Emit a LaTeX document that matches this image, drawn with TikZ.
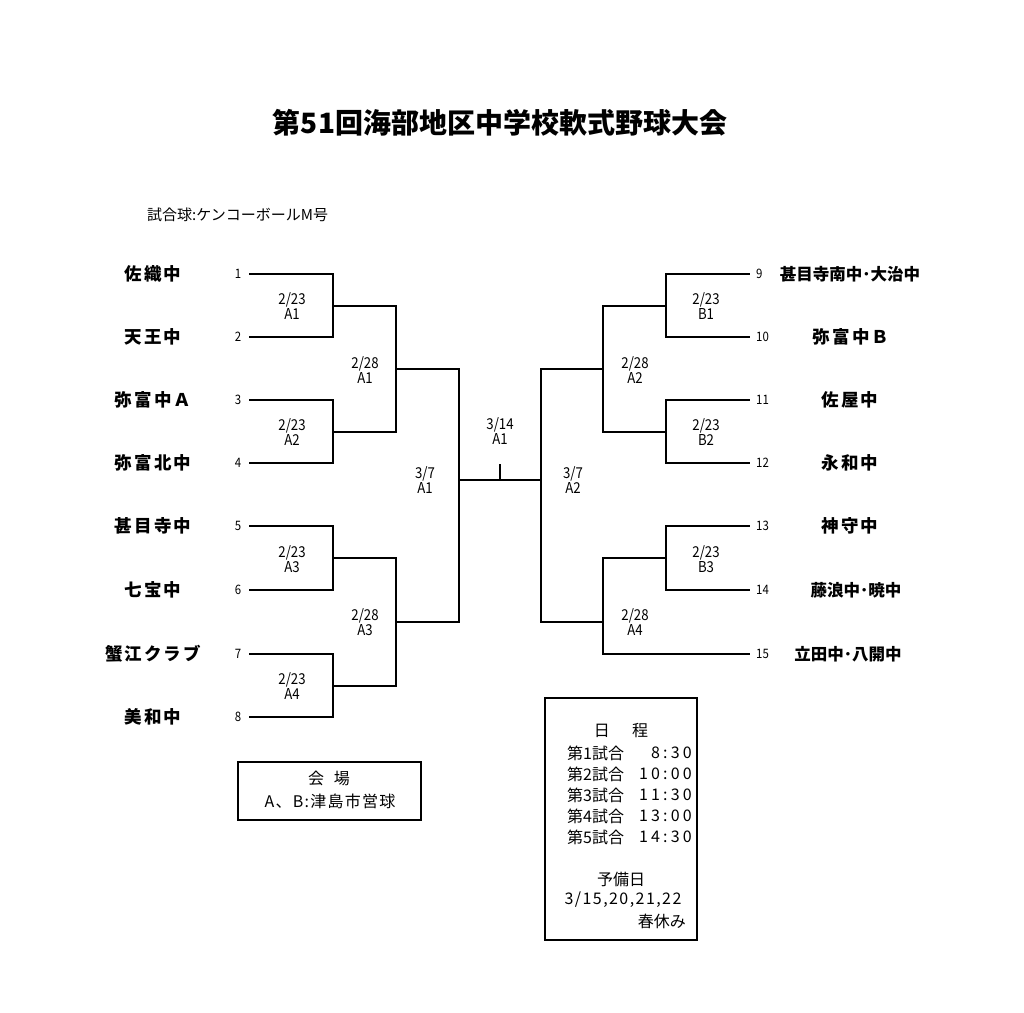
\documentclass[tikz,border=0pt]{standalone}
\usepackage{fontspec}
\setmainfont{Noto Sans CJK JP}
\newfontfamily\jp{Noto Sans CJK JP}
\newfontfamily\jpsp[LetterSpace=12]{Noto Sans CJK JP}
\newfontfamily\jpnar[FakeStretch=0.88]{Noto Sans CJK JP}
\newfontfamily\jpwide[LetterSpace=20]{Noto Sans CJK JP}
\newfontfamily\jpdate[LetterSpace=9]{Noto Sans CJK JP}
\newfontfamily\jpven[LetterSpace=8]{Noto Sans CJK JP}
\begin{document}
\begin{tikzpicture}[x=1pt,y=-1pt,
  team/.style={font=\jpsp\bfseries\fontsize{17.5}{18}\selectfont, inner sep=0pt},
  teamn/.style={font=\jp\bfseries\fontsize{16.5}{17}\selectfont, inner sep=0pt},
  num/.style={font=\jpnar\fontsize{13}{13}\selectfont, inner sep=0pt},
  lbl/.style={font=\jpnar\fontsize{15}{15}\selectfont, align=center, inner sep=0pt},
  small/.style={font=\jp\fontsize{16}{21}\selectfont, inner sep=0pt},
  ln/.style={line width=1.8pt, line cap=rect},
  box/.style={draw, line width=1.2pt}]
\useasboundingbox[fill=white] (0,0) rectangle (1024,1012);

% title
\node[font=\jp\bfseries\fontsize{28}{29}\selectfont] (title) at (500,123) {第51回海部地区中学校軟式野球大会};
\node[font=\jp\fontsize{15}{15}\selectfont, anchor=west, inner sep=0pt] (ball) at (147,215) {試合球:ケンコーボールM号};

% left teams
\foreach \i/\y/\t in {1/274/佐織中,2/337/天王中,3/400/弥富中Ａ,4/463/弥富北中,5/526/甚目寺中,6/590/七宝中,7/654/蟹江クラブ,8/717/美和中}{
  \node[team] (t\i) at (153,\y) {\t};
  \node[num] (n\i) at (238,\y) {\i};
  \coordinate (L\i) at (250,\y);
}
% right teams
\foreach \i/\y in {9/274,10/337,11/400,12/463,13/526,14/590,15/654}{
  \node[num, anchor=west] (n\i) at (756,\y) {\i};
  \coordinate (L\i) at (749,\y);
}
\node[teamn] (t9) at (850,274) {甚目寺南中･大治中};
\node[team] (t10) at (851,337) {弥富中Ｂ};
\node[team] (t11) at (850,400) {佐屋中};
\node[team] (t12) at (850,463) {永和中};
\node[team] (t13) at (850,526) {神守中};
\node[teamn] (t14) at (856,590) {藤浪中･暁中};
\node[teamn] (t15) at (848,654) {立田中･八開中};

% junctions
\coordinate (J1) at (333,306);
\coordinate (J2) at (333,432);
\coordinate (J3) at (333,558);
\coordinate (J4) at (333,686);
\coordinate (S1) at (396,369);
\coordinate (S2) at (396,622);
\coordinate (F1) at (459,480);
\coordinate (F2) at (541,480);
\coordinate (RS1) at (603,369);
\coordinate (RS2) at (603,622);
\coordinate (RJ1) at (666,306);
\coordinate (RJ2) at (666,432);
\coordinate (RJ3) at (666,558);
\coordinate (top) at (500,464);
\coordinate (mid) at (500,480);

\draw[ln] (L1) -| (J1); \draw[ln] (L2) -| (J1);
\draw[ln] (L3) -| (J2); \draw[ln] (L4) -| (J2);
\draw[ln] (L5) -| (J3); \draw[ln] (L6) -| (J3);
\draw[ln] (L7) -| (J4); \draw[ln] (L8) -| (J4);
\draw[ln] (J1) -| (S1); \draw[ln] (J2) -| (S1);
\draw[ln] (J3) -| (S2); \draw[ln] (J4) -| (S2);
\draw[ln] (S1) -| (F1); \draw[ln] (S2) -| (F1);
\draw[ln] (F1) -- (F2);
\draw[ln] (RS1) -| (F2); \draw[ln] (RS2) -| (F2);
\draw[ln] (RJ1) -| (RS1); \draw[ln] (RJ2) -| (RS1);
\draw[ln] (RJ3) -| (RS2); \draw[ln] (L15) -| (RS2);
\draw[ln] (L9) -| (RJ1); \draw[ln] (L10) -| (RJ1);
\draw[ln] (L11) -| (RJ2); \draw[ln] (L12) -| (RJ2);
\draw[ln] (L13) -| (RJ3); \draw[ln] (L14) -| (RJ3);
\draw[ln, line cap=butt] (top) -- (mid);

% match labels
\node[lbl] (m1) at (292,306) {2/23\\A1};
\node[lbl] (m2) at (292,432) {2/23\\A2};
\node[lbl] (m3) at (292,559) {2/23\\A3};
\node[lbl] (m4) at (292,686) {2/23\\A4};
\node[lbl] (m5) at (365,370) {2/28\\A1};
\node[lbl] (m6) at (365,622) {2/28\\A3};
\node[lbl] (m7) at (425,480) {3/7\\A1};
\node[lbl] (m8) at (500,431) {3/14\\A1};
\node[lbl] (m9) at (573,480) {3/7\\A2};
\node[lbl] (m10) at (706,306) {2/23\\B1};
\node[lbl] (m11) at (706,432) {2/23\\B2};
\node[lbl] (m12) at (706,559) {2/23\\B3};
\node[lbl] (m13) at (635,370) {2/28\\A2};
\node[lbl] (m14) at (635,622) {2/28\\A4};

% venue box
\draw[box] (238,762) rectangle (421,820);
\node[small] (v1) at (329,778) {会\hspace{0.6em}場};
\node[small, font=\jpven\fontsize{16}{21}\selectfont] (v2) at (330,801) {A、B:津島市営球};

% schedule box
\draw[box] (545,698) rectangle (697,940);
\node[small] (s0) at (621,731) {日\hspace{1.4em}程};
\foreach \k/\y/\tm in {1/753/8:30,2/774/10:00,3/795/11:30,4/816/13:00,5/837/14:30}{
  \node[small, anchor=west] (sa\k) at (567,\y) {第\k 試合};
  \node[small, anchor=east, font=\jpwide\fontsize{16}{21}\selectfont] (sb\k) at (692,\y) {\tm};
}
\node[small] (s6) at (621,879) {予備日};
\node[small, font=\jpdate\fontsize{16}{21}\selectfont] (s7) at (623,900) {3/15,20,21,22};
\node[small, anchor=east] (s8) at (686,921) {春休み};
\end{tikzpicture}
\end{document}
